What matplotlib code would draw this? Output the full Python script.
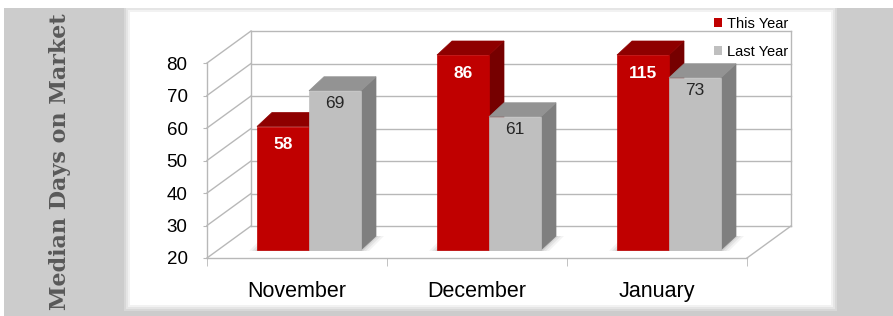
import numpy as np
import matplotlib.pyplot as plt
from matplotlib.patches import Polygon, Rectangle, Patch

# data
months = ['November', 'December', 'January']
this_year = [58, 86, 115]
last_year = [69, 61, 73]
series_names = ['This Year', 'Last Year']
yticks = [20, 30, 40, 50, 60, 70, 80]
ymin, ymax = 20, 80

# colours: front, top, side
red = ('#C00000', '#8E0000', '#760000')
grey = ('#BFBFBF', '#939393', '#7F7F7F')
line_col = '#B8B8B8'

W, H = 893, 316
fig = plt.figure(figsize=(W / 100, H / 100), dpi=100)
fig.patch.set_facecolor('white')

def box(x, y, w, h):
    # pixel box with top-left origin -> figure fraction rect
    return (x / W, 1 - (y + h) / H), w / W, h / H

# grey background + white panel with soft edge
xy, w, h = box(4, 8, W - 4, H - 8)
fig.add_artist(Rectangle(xy, w, h, transform=fig.transFigure, fc='#CCCCCC', ec='none', zorder=-20))
for k, a in [(6, 0.25), (4, 0.35), (2, 0.5), (0, 1.0)]:
    xy, w, h = box(130 - k, 12 - k, 701 + 2 * k, 293 + 2 * k)
    fig.add_artist(Rectangle(xy, w, h, transform=fig.transFigure, fc='white', ec='none', alpha=a, zorder=-19))

fig.text(60 / W, 1 - 162 / H, 'Median Days on Market', rotation=90, ha='center', va='center',
         family=['DejaVu Serif', 'Liberation Serif'], weight='bold', fontsize=16, color='#595959')

ax = fig.add_axes([207 / W, 1 - 258 / H, 540 / W, 195 / H])
ax.patch.set_alpha(0)
ax.set_xlim(-0.5, len(months) - 0.5)
ax.set_ylim(ymin, ymax)

# pixel -> data unit steps
PX = len(months) / 540.0
PY = (ymax - ymin) / 195.0
WDX, WDY = 44 * PX, 32 * PY      # wall depth

x_left, x_right = -0.5, len(months) - 0.5
lk = dict(color=line_col, lw=1, clip_on=False, zorder=1)
for v in yticks:
    ax.plot([x_left + WDX, x_right + WDX], [v + WDY, v + WDY], **lk)
    ax.plot([x_left, x_left + WDX], [v, v + WDY], **lk)
ax.plot([x_left + WDX, x_left + WDX], [ymin + WDY, ymax + WDY], **lk)
ax.plot([x_right + WDX, x_right + WDX], [ymin + WDY, ymax + WDY], **lk)
ax.plot([x_right, x_right + WDX], [ymin, ymin + WDY], **lk)

# bars
shift, base = 12 * PX, 8 * PY
bw = 52 * PX
ddx, ddy = 15 * PX, 14 * PY
label_off = [-13, -9.5]

for i in range(len(months)):
    c = i + shift
    # soft shadow on the floor
    fx0, fx1 = c - bw, c + bw
    for k, a in [(8, 0.06), (5, 0.08), (2, 0.12)]:
        e = k * PX
        sh = [(fx0 - e, ymin + base - 1 * PY), (fx1 + e, ymin + base - 1 * PY),
              (fx1 + ddx + e, ymin + base + ddy), (fx0 + ddx - e, ymin + base + ddy)]
        ax.add_patch(Polygon(sh, closed=True, fc='#404040', ec='none', alpha=a, clip_on=False, zorder=2))
    for j, (vals, cols) in enumerate([(this_year, red), (last_year, grey)]):
        v = vals[i]
        x0 = c - bw + j * bw
        y0 = ymin + base
        top = min(v, ymax) + base
        side = [(x0 + bw, y0), (x0 + bw + ddx, y0 + ddy), (x0 + bw + ddx, top + ddy), (x0 + bw, top)]
        topf = [(x0, top), (x0 + bw, top), (x0 + bw + ddx, top + ddy), (x0 + ddx, top + ddy)]
        front = [(x0, y0), (x0 + bw, y0), (x0 + bw, top), (x0, top)]
        for poly, col in [(side, cols[2]), (topf, cols[1]), (front, cols[0])]:
            ax.add_patch(Polygon(poly, closed=True, fc=col, ec=col, lw=0.5, clip_on=False, zorder=3))
        if j == 0:
            tk = dict(color='white', weight='bold')
        else:
            tk = dict(color='#262626')
        ax.annotate(str(v), xy=(x0 + bw / 2, top), xytext=(0, label_off[j]), textcoords='offset points',
                    ha='center', va='center', fontsize=12.5, family='Liberation Sans', zorder=5,
                    annotation_clip=False, **tk)

# axes
for s in ['top', 'right']:
    ax.spines[s].set_visible(False)
for s in ['left', 'bottom']:
    ax.spines[s].set_color(line_col)
    ax.spines[s].set_linewidth(1)
ax.set_yticks(yticks)
ax.set_yticklabels([str(t) for t in yticks], family='Liberation Sans', fontsize=13.5)
ax.tick_params(axis='y', length=3, color=line_col, pad=11)
ax.set_xticks(range(len(months)))
ax.set_xticklabels(months, family='Liberation Sans', fontsize=15.5)
ax.set_xticks(np.arange(-0.5, len(months)), minor=True)
ax.tick_params(axis='x', which='major', length=0, pad=16.5)
ax.tick_params(axis='x', which='minor', length=6, color=line_col)

handles = [Patch(fc=red[0], ec='none'), Patch(fc=grey[0], ec='none')]
ax.legend(handles, series_names, loc='upper right', bbox_to_anchor=(788 / W, 1 - 17 / H),
          bbox_transform=fig.transFigure, frameon=False, prop={'family': 'Liberation Sans', 'size': 10.5},
          handlelength=0.55, handleheight=0.55, handletextpad=0.3, labelspacing=0.95,
          borderpad=0, borderaxespad=0)

plt.savefig('out.png', dpi=100)
